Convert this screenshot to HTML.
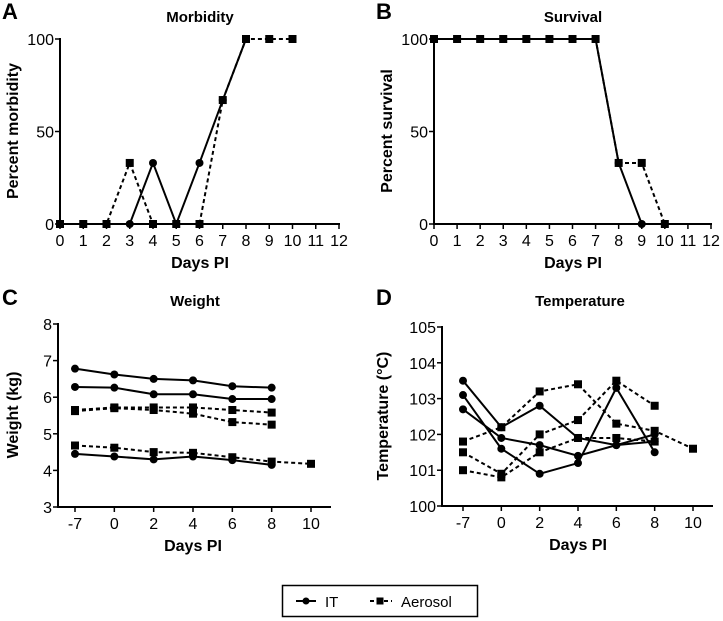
<!DOCTYPE html>
<html><head><meta charset="utf-8"><style>
body{margin:0;background:#fff}
svg{display:block;font-family:"Liberation Sans",Arial,sans-serif}
.t{font-size:15px}
</style></head><body>
<svg id="s" width="723" height="621" viewBox="0 0 723 621">
<g>
<rect x="282.5" y="585.5" width="195" height="31" fill="#fff" stroke="#000" stroke-width="1.5"/>
<g>
<line x1="296" y1="601" x2="316" y2="601" stroke="#000" stroke-width="2"/>
<circle cx="306" cy="601" r="3.5" fill="#000"/>
<text x="325" y="607" class="t">IT</text></g>
<g>
<line x1="370" y1="601" x2="392" y2="601" stroke="#000" stroke-width="2" stroke-dasharray="4,3"/>
<rect x="376.5" y="597.5" width="7" height="7" fill="#000"/>
<text x="401" y="607" class="t">Aerosol</text></g>
</g>
</svg>
<script>
// Panel A: Morbidity
const morbDays=[0,1,2,3,4,5,6,7,8,9,10,11,12];
const morbIT=[0,0,0,0,33,0,33,67,100];
const morbAero=[0,0,0,33,0,0,0,67,100,100,100];
// Panel B: Survival
const survIT=[100,100,100,100,100,100,100,100,33,0];
const survAero=[100,100,100,100,100,100,100,100,33,33,0];
const pctTicks=[0,50,100];
// Panel C: Weight (days categorical)
const wtDays=["-7","0","2","4","6","8","10"];
const wtIT1=[6.78,6.62,6.5,6.46,6.3,6.26];
const wtIT2=[6.28,6.26,6.08,6.08,5.95,5.95];
const wtIT3=[4.45,4.38,4.3,4.38,4.28,4.15];
const wtA1=[5.65,5.72,5.72,5.72,5.65,5.58];
const wtA2=[5.62,5.7,5.65,5.55,5.32,5.25];
const wtA3=[4.68,4.62,4.5,4.48,4.36,4.24,4.18];
const wtTicks=[3,4,5,6,7,8];
// Panel D: Temperature
const tIT1=[103.5,102.2,102.8,101.9,101.7,101.8];
const tIT2=[103.1,101.6,100.9,101.2,103.3,101.5];
const tIT3=[102.7,101.9,101.7,101.4,101.7,102.0];
const tA1=[101.8,102.2,103.2,103.4,102.3,102.1,101.6];
const tA2=[101.5,100.9,102.0,102.4,103.5,102.8];
const tA3=[101.0,100.8,101.5,101.9,101.9,101.8];
const tTicks=[100,101,102,103,104,105];

const NS="http://www.w3.org/2000/svg";
const svg=document.getElementById('s');
function mk(tag,attrs,parent,txt){const e=document.createElementNS(NS,tag);for(const k in attrs)e.setAttribute(k,attrs[k]);if(txt!==undefined)e.textContent=txt;(parent||svg).appendChild(e);return e;}

function panel(o){
  const g=mk('g',{});
  
  
  const lab=mk('text',{x:o.lx,y:o.ly,'font-size':22,'font-weight':'bold'},g,o.letter);
  
  
  const ti=mk('text',{x:o.tx,y:o.ty,'font-size':15,'font-weight':'bold','text-anchor':'middle'},g,o.title);
  
  
  const X=o.X,Y=o.Y;
  const ya=mk('line',{x1:o.ax,y1:o.y1,x2:o.ax,y2:o.y0+0.5,stroke:'#000','stroke-width':2},g);
  
  
  const xa=mk('line',{x1:o.ax-1,y1:o.y0,x2:o.axEnd,y2:o.y0,stroke:'#000','stroke-width':2},g);
  
  
  o.yt.forEach(v=>{
    const y=Y(v);
    mk('line',{x1:o.ax-5,y1:y,x2:o.ax,y2:y,stroke:'#000','stroke-width':1.5},g);
    const t=mk('text',{x:o.ax-6,y:y+6,'font-size':16,'text-anchor':'end'},g,String(v));
    
    
  });
  o.xt.forEach((v,i)=>{
    const x=X(i);
    mk('line',{x1:x,y1:o.y0,x2:x,y2:o.y0+5,stroke:'#000','stroke-width':1.5},g);
    const t=mk('text',{x:x,y:o.y0+22,'font-size':16,'text-anchor':'middle'},g,String(v));
    
    
  });
  const xt=mk('text',{x:o.xtx,y:o.y0+44,'font-size':16,'font-weight':'bold','text-anchor':'middle'},g,'Days PI');
  
  
  const ycy=(o.y0+o.y1)/2;
  const yt=mk('text',{x:o.ylx,y:ycy,'font-size':16,'font-weight':'bold','text-anchor':'middle',transform:`rotate(-90 ${o.ylx} ${ycy})`},g,o.ylabel);
  
  
  o.series.forEach(s=>{
    const sg=mk('g',{},g);
    
    
    const pts=s.v.map((v,i)=>[X(i),Y(v)]);
    const p=mk('polyline',{points:pts.map(q=>q.join(',')).join(' '),fill:'none',stroke:'#000','stroke-width':2},sg);
    if(s.dash)p.setAttribute('stroke-dasharray','4,3');
    pts.forEach(q=>{
      let m;
      if(s.dash)m=mk('rect',{x:q[0]-4,y:q[1]-4,width:8,height:8,fill:'#000'},sg);
      else m=mk('circle',{cx:q[0],cy:q[1],r:4,fill:'#000'},sg);
      
      
    });
  });
}
function lin(d0,d1,p0,p1){return v=>p0+(v-d0)*(p1-p0)/(d1-d0);}

(function(){const X=lin(0,12,60,339),Y=lin(0,100,224,39);
panel({name:'panel-a-morbidity',letter:'A',lx:2,ly:19,title:'Morbidity',tx:200,ty:22,X:i=>X(morbDays[i]),Y,ax:60,y0:224,y1:38,axEnd:340,yt:pctTicks,xt:morbDays,xtx:200,ylabel:'Percent morbidity',ylx:18,
series:[{name:'series-aerosol',v:morbAero,dash:true},{name:'series-it',v:morbIT}]});})();
(function(){const X=lin(0,12,434,711),Y=lin(0,100,224,39);
panel({name:'panel-b-survival',letter:'B',lx:376,ly:19,title:'Survival',tx:573,ty:22,X:i=>X(morbDays[i]),Y,ax:434,y0:224,y1:38,axEnd:712,yt:pctTicks,xt:morbDays,xtx:573,ylabel:'Percent survival',ylx:392,
series:[{name:'series-aerosol',v:survAero,dash:true},{name:'series-it',v:survIT}]});})();
(function(){const X=lin(0,6,75,311),Y=lin(3,8,507,324);
panel({name:'panel-c-weight',letter:'C',lx:2,ly:305,title:'Weight',tx:195,ty:306,X,Y,ax:58,y0:507,y1:323,axEnd:331,yt:wtTicks,xt:wtDays,xtx:193,ylabel:'Weight (kg)',ylx:18,
series:[{name:'series-aerosol-1',v:wtA1,dash:true},{name:'series-aerosol-2',v:wtA2,dash:true},{name:'series-aerosol-3',v:wtA3,dash:true},{name:'series-it-1',v:wtIT1},{name:'series-it-2',v:wtIT2},{name:'series-it-3',v:wtIT3}]});})();
(function(){const X=lin(0,6,463,693),Y=lin(100,105,506,327);
panel({name:'panel-d-temperature',letter:'D',lx:376,ly:305,title:'Temperature',tx:580,ty:306,X,Y,ax:442,y0:506,y1:326,axEnd:713,yt:tTicks,xt:wtDays,xtx:578,ylabel:'Temperature (°C)',ylx:388,
series:[{name:'series-aerosol-1',v:tA1,dash:true},{name:'series-aerosol-2',v:tA2,dash:true},{name:'series-aerosol-3',v:tA3,dash:true},{name:'series-it-1',v:tIT1},{name:'series-it-2',v:tIT2},{name:'series-it-3',v:tIT3}]});})();
</script>
</body></html>
